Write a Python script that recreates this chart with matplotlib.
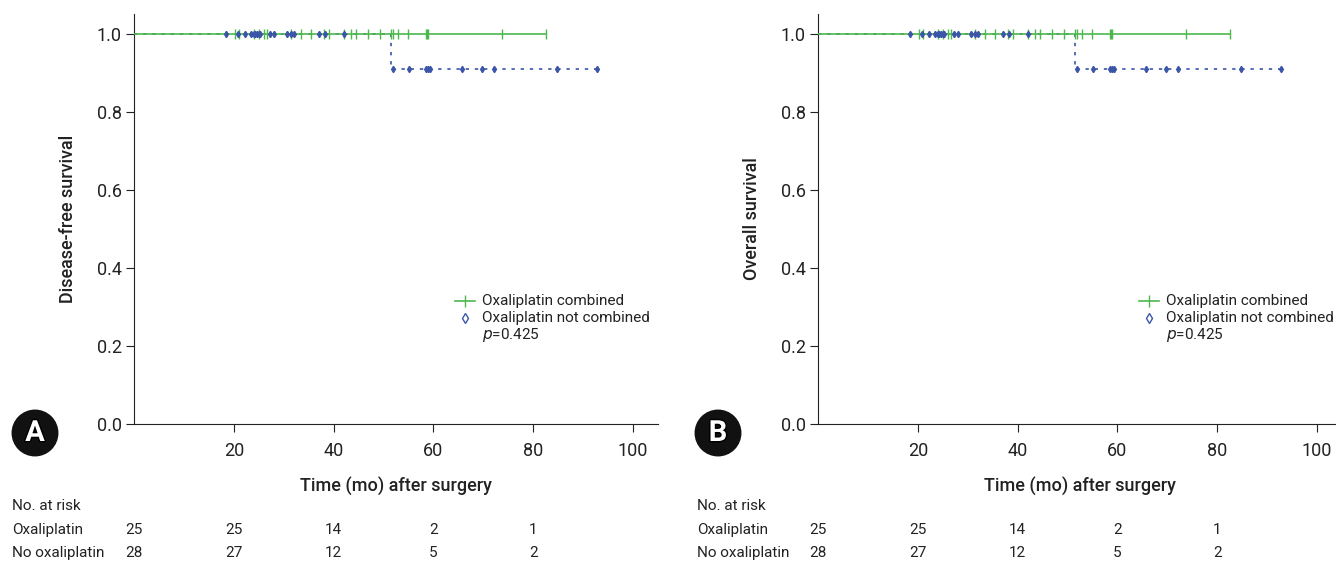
import matplotlib
matplotlib.use('Agg')
import matplotlib.pyplot as plt
import matplotlib.patheffects as pe
from matplotlib.transforms import blended_transform_factory

plt.rcParams['font.family'] = ['Roboto', 'DejaVu Sans']

# survival curves (step, post)
comb_t = [0, 82.6]
comb_s = [1.0, 1.0]
nocomb_t = [0, 51.5, 92.7]
nocomb_s = [1.0, 10 / 11, 10 / 11]

# censoring times
comb_cens = [20.2, 21, 24, 25, 26, 26.7, 31.4, 33.4, 35.4, 38, 39,
             42, 43.4, 44.4, 46.8, 49.3, 51.5, 51.8, 52.9, 54.9, 58.6, 58.8, 59,
             73.7, 82.6]
nocomb_cens = [18.5, 20.9, 22.3, 23.5, 24.1, 24.3, 24.6, 25.0, 25.3, 27.3, 28.1,
               30.7, 31.4, 32.1, 37.1, 38.2, 42.1,
               51.9, 55.1, 58.5, 58.9, 59.3, 65.7, 69.7, 72.1, 84.7, 92.7]

# numbers at risk
risk_times = [0, 20, 40, 60, 80]
risk_comb = [25, 25, 14, 2, 1]
risk_nocomb = [28, 27, 12, 5, 2]

panels = ['A', 'B']
ylabels = ['Disease-free survival', 'Overall survival']

green = '#4cb84c'
blue = '#3b55a8'
txt = '#222222'


def surv_at(t, times, surv):
    s = surv[0]
    for ti, si in zip(times, surv):
        if t >= ti:
            s = si
    return s


fig = plt.figure(figsize=(13.36, 5.64), dpi=100)
lefts = [134 / 1336, 818 / 1336]
for k in range(2):
    ax = fig.add_axes([lefts[k], 140 / 564, 524 / 1336, 410 / 564])
    ax.step(comb_t, comb_s, where='post', color=green, lw=1.2, zorder=3)
    ax.step(nocomb_t, nocomb_s, where='post', color=blue, lw=1.2,
            linestyle=(0, (2, 3.5)), zorder=2)
    ax.plot(comb_cens, [surv_at(t, comb_t, comb_s) for t in comb_cens],
            linestyle='none', marker='|', ms=6.5, mew=1.0, color=green, zorder=3)
    ax.plot(nocomb_cens, [surv_at(t, nocomb_t, nocomb_s) for t in nocomb_cens],
            linestyle='none', marker='d', ms=3.2, color=blue, zorder=4)

    ax.set_xlim(0, 105)
    ax.set_ylim(0, 1.05)
    ax.set_xticks([20, 40, 60, 80, 100])
    ax.set_yticks([0, 0.2, 0.4, 0.6, 0.8, 1.0])
    ax.set_yticklabels(['0.0', '0.2', '0.4', '0.6', '0.8', '1.0'])
    ax.spines['top'].set_visible(False)
    ax.spines['right'].set_visible(False)
    for s in ['left', 'bottom']:
        ax.spines[s].set_color(txt)
    ax.tick_params(axis='x', labelsize=13, length=6, pad=7, colors=txt)
    ax.tick_params(axis='y', labelsize=13, length=6, pad=3, colors=txt)
    ax.set_xlabel('Time (mo) after surgery', fontsize=13, fontweight='medium',
                  labelpad=12, color=txt)
    ax.set_ylabel(ylabels[k], fontsize=13, fontweight='medium', labelpad=14, color=txt)

    # legend
    ax.plot([0.612, 0.650], [0.30, 0.30], transform=ax.transAxes, color=green, lw=1.2)
    ax.plot([0.631], [0.30], transform=ax.transAxes, marker='|', ms=8, color=green)
    ax.plot([0.631], [0.259], transform=ax.transAxes, marker='d', ms=5,
            mfc='white', mec=blue, mew=1.0)
    for yy, s in zip([0.30, 0.259, 0.218],
                     ['Oxaliplatin combined', 'Oxaliplatin not combined', '$p$=0.425']):
        ax.text(0.664, yy, s, transform=ax.transAxes, fontsize=11, va='center', color=txt)

    # panel badge
    bx = (35 if k == 0 else 718) / 1336
    fig.text(bx, 1 - 433 / 564, panels[k], fontsize=21, fontweight='bold',
             color='white', ha='center', va='center',
             path_effects=[pe.withStroke(linewidth=2, foreground='black')],
             bbox=dict(boxstyle='circle,pad=0.3', fc='#111111', ec='#111111'))

    # number at risk table
    tr = blended_transform_factory(ax.transData, fig.transFigure)
    tx = (12 if k == 0 else 697) / 1336
    for yy, s in zip([506, 530, 553], ['No. at risk', 'Oxaliplatin', 'No oxaliplatin']):
        fig.text(tx, 1 - yy / 564, s, fontsize=11, va='center', color=txt)
    for t, a, b in zip(risk_times, risk_comb, risk_nocomb):
        ax.text(t, 1 - 530 / 564, str(a), transform=tr, fontsize=11,
                ha='center', va='center', clip_on=False, color=txt)
        ax.text(t, 1 - 553 / 564, str(b), transform=tr, fontsize=11,
                ha='center', va='center', clip_on=False, color=txt)

fig.savefig('out.png', dpi=100)
